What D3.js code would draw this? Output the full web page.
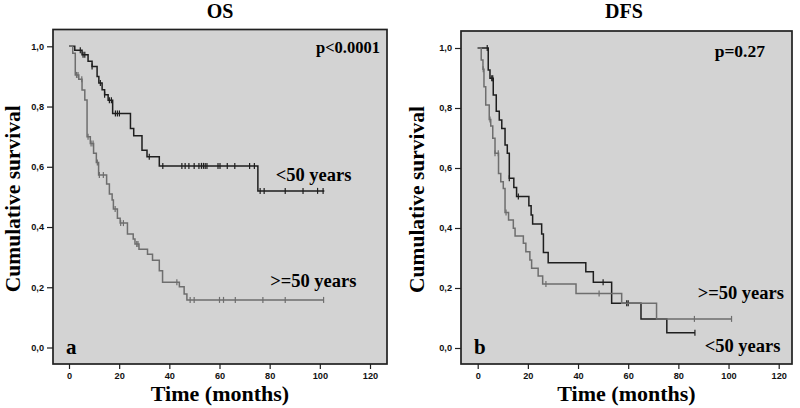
<!DOCTYPE html>
<html><head><meta charset="utf-8">
<script src="https://cdn.jsdelivr.net/npm/d3@7"></script>
<style>body{margin:0;background:#fff}svg{display:block}</style>
</head><body>
<script>
// ---- data ----
const xTicks = [0, 20, 40, 60, 80, 100, 120];
const yTicks = [0, 0.2, 0.4, 0.6, 0.8, 1.0];
const yTickLabels = ["0,0", "0,2", "0,4", "0,6", "0,8", "1,0"];
const panelTitles = ["OS", "DFS"];
const pValues = ["p<0.0001", "p=0.27"];
const panelLetters = ["a", "b"];
const groupNames = ["<50 years", ">=50 years"];

// OS, <50 years: [time of drop, survival after drop]
const osYoungSteps = [[2.3,0.987],[5.2,0.972],[7.6,0.95],[9.2,0.933],[11.2,0.90],[11.9,0.878],[13.2,0.856],[14.2,0.839],[15.6,0.821],[17.4,0.777],[24.5,0.727],[25.8,0.703],[29.1,0.655],[31.1,0.633],[36.0,0.603],[75.3,0.52]];
const osYoungEnd = 101.8;
const osYoungCensor = [4.5,5.6,6.3,9.2,12.5,14.2,16.1,16.9,18.5,19.3,20.1,32.0,37.4,45.0,46.3,47.8,49.9,51.8,52.8,53.6,54.3,55.0,59.4,60.2,63.1,66.1,72.0,73.9,76.2,77.8,86.2,93.3,99.1,101.3];
// OS, >=50 years
const osOldSteps = [[1.5,0.977],[2.5,0.905],[3.9,0.891],[5.2,0.855],[6.3,0.822],[7.2,0.70],[8.5,0.677],[9.8,0.645],[10.9,0.614],[11.8,0.573],[15.0,0.543],[16.1,0.51],[17.2,0.49],[17.7,0.46],[19.3,0.429],[20.4,0.413],[23.3,0.377],[25.6,0.36],[26.3,0.344],[27.9,0.326],[31.3,0.31],[33.3,0.29],[36.0,0.255],[37.3,0.217],[44.0,0.202],[45.9,0.178],[47.0,0.158]];
const osOldEnd = 101.5;
const osOldCensor = [3.0,3.6,5.1,7.6,8.8,9.6,11.3,12.1,13.7,18.4,20.6,21.7,27.0,27.5,43.0,48.3,49.9,60.0,61.6,66.3,77.3,86.2,101.5];
// DFS, <50 years
const dfsYoungSteps = [[4.2,0.927],[4.9,0.899],[6.2,0.843],[7.4,0.789],[8.6,0.76],[9.6,0.732],[10.9,0.677],[11.8,0.649],[12.6,0.566],[14.4,0.535],[15.5,0.505],[20.4,0.474],[21.3,0.443],[21.9,0.413],[25.5,0.38],[26.2,0.318],[28.1,0.284],[43.1,0.254],[46.1,0.219],[53.4,0.149],[65.1,0.097],[75.4,0.051]];
const dfsYoungEnd = 86.6;
const dfsYoungCensor = [3.8,5.6,6.0,12.6,16.2,50.0,59.4,60.0,86.6];
// DFS, >=50 years
const dfsOldSteps = [[1.4,0.96],[2.1,0.929],[2.5,0.871],[3.2,0.81],[4.6,0.762],[5.2,0.74],[6.0,0.699],[6.9,0.649],[8.3,0.582],[9.2,0.554],[10.2,0.532],[10.9,0.452],[12.3,0.427],[14.2,0.399],[14.9,0.373],[18.2,0.349],[19.2,0.321],[20.8,0.293],[21.5,0.266],[24.1,0.24],[25.9,0.213],[39.2,0.182],[57.4,0.149],[71.3,0.097]];
const dfsOldEnd = 101.2;
const dfsOldCensor = [2.2,4.9,6.9,8.2,11.3,27.2,48.4,86.4,101.2];

// ---- drawing ----
const W = 800, H = 408;
const svg = d3.select("body").append("svg").attr("width", W).attr("height", H);
const serif = "'Liberation Serif','Times New Roman',serif";
const sans = "'Liberation Sans',Arial,sans-serif";
const darkCol = "#1e1e1e", greyCol = "#6e6e6e";

const panels = [
  {box:[53,29.5,387,364], x0:69, x120:370, y1:46.3, y0:347.5, titleX:220, yTitleX:20,
   curves:[{steps:osYoungSteps,end:osYoungEnd,cens:osYoungCensor,col:darkCol},
           {steps:osOldSteps,end:osOldEnd,cens:osOldCensor,col:greyCol}],
   pPos:[380,53], pSize:16.5, labels:[[351.5,180.5],[356.5,286.5]]},
  {box:[461,31,792,364], x0:477.7, x120:778.7, y1:48, y0:348, titleX:624, yTitleX:424,
   curves:[{steps:dfsYoungSteps,end:dfsYoungEnd,cens:dfsYoungCensor,col:darkCol},
           {steps:dfsOldSteps,end:dfsOldEnd,cens:dfsOldCensor,col:greyCol}],
   pPos:[765,57], pSize:17.5, labels:[[780.5,351.5],[784,299]]}
];

panels.forEach((p, i) => {
  const [bx0, by0, bx1, by1] = p.box;
  const x = d3.scaleLinear().domain([0, 120]).range([p.x0, p.x120]);
  const y = d3.scaleLinear().domain([0, 1]).range([p.y0, p.y1]);
  const g = svg.append("g");

  g.append("rect").attr("x", bx0).attr("y", by0).attr("width", bx1 - bx0).attr("height", by1 - by0)
    .attr("fill", "#d3d3d3").attr("stroke", "#202020").attr("stroke-width", 1.7);

  // axes
  const yAxis = d3.axisLeft(y).tickValues(yTicks).tickFormat((d, k) => yTickLabels[k]).tickSize(6).tickPadding(3);
  const ya = g.append("g").attr("transform", `translate(${bx0},0)`).call(yAxis);
  const xAxis = d3.axisBottom(x).tickValues(xTicks).tickSize(5).tickPadding(3);
  const xa = g.append("g").attr("transform", `translate(0,${by1})`).call(xAxis);
  [ya, xa].forEach(a => {
    a.select(".domain").remove();
    a.selectAll(".tick line").attr("stroke", "#202020").attr("stroke-width", 1.2);
    a.selectAll(".tick text").attr("font-family", sans).attr("font-weight", "bold")
      .attr("font-size", 9.2).attr("fill", "#111");
  });

  // curves
  const line = d3.line().x(d => x(d[0])).y(d => y(d[1])).curve(d3.curveStepAfter);
  p.curves.forEach(c => {
    const last = c.steps[c.steps.length - 1][1];
    const pts = [[0, 1]].concat(c.steps, [[c.end, last]]);
    g.append("path").attr("d", line(pts)).attr("fill", "none")
      .attr("stroke", c.col).attr("stroke-width", 1.5);
    // censor marks
    const survAt = t => { let s = 1; c.steps.forEach(d => { if (d[0] <= t) s = d[1]; }); return s; };
    g.selectAll(null).data(c.cens).enter().append("line")
      .attr("x1", d => x(d)).attr("x2", d => x(d))
      .attr("y1", d => y(survAt(d)) - 3).attr("y2", d => y(survAt(d)) + 3)
      .attr("stroke", c.col).attr("stroke-width", 1.2);
  });

  // texts
  svg.append("text").attr("x", p.titleX).attr("y", 18).attr("text-anchor", "middle")
    .attr("font-family", serif).attr("font-weight", "bold").attr("font-size", 20).text(panelTitles[i]);
  svg.append("text").attr("x", p.pPos[0]).attr("y", p.pPos[1]).attr("text-anchor", "end")
    .attr("font-family", serif).attr("font-weight", "bold").attr("font-size", p.pSize).text(pValues[i]);
  svg.append("text").attr("x", bx0 + 13).attr("y", 354).attr("font-family", serif)
    .attr("font-weight", "bold").attr("font-size", 21).text(panelLetters[i]);
  groupNames.forEach((nm, k) => {
    svg.append("text").attr("x", p.labels[k][0]).attr("y", p.labels[k][1]).attr("text-anchor", "end")
      .attr("font-family", serif).attr("font-weight", "bold").attr("font-size", 18.5).text(nm);
  });
  svg.append("text").attr("x", (bx0 + bx1) / 2).attr("y", 401).attr("text-anchor", "middle")
    .attr("font-family", serif).attr("font-weight", "bold").attr("font-size", 22).text("Time (months)");
  svg.append("text").attr("transform", `translate(${p.yTitleX},${(by0 + by1) / 2 + 2}) rotate(-90)`)
    .attr("text-anchor", "middle").attr("font-family", serif).attr("font-weight", "bold")
    .attr("font-size", 21.5).text("Cumulative survival");
});
</script>
</body></html>
